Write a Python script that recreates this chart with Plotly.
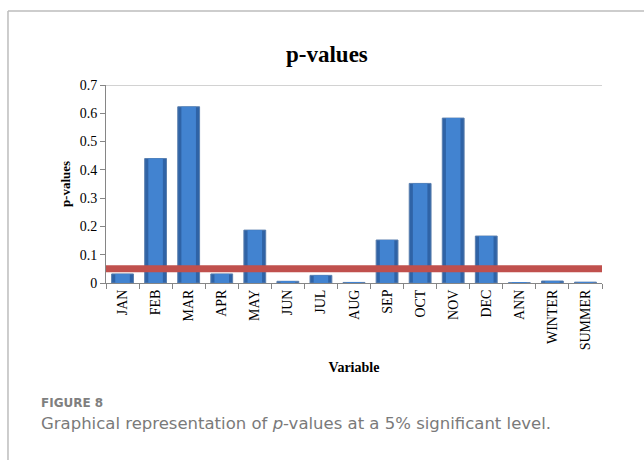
import plotly.graph_objects as go

# Monthly, annual and seasonal test results
variables = ["JAN", "FEB", "MAR", "APR", "MAY", "JUN", "JUL", "AUG",
             "SEP", "OCT", "NOV", "DEC", "ANN", "WINTER", "SUMMER"]
p_values = [0.032, 0.44, 0.623, 0.032, 0.187, 0.006, 0.027, 0.002,
            0.152, 0.352, 0.583, 0.166, 0.001, 0.007, 0.003]
significance_level = 0.05
y_ticks = [0, 0.1, 0.2, 0.3, 0.4, 0.5, 0.6, 0.7]

serif = "Liberation Serif, Times New Roman, serif"
sans = "DejaVu Sans, Open Sans, sans-serif"

fig = go.Figure()
# darker outer body of each bar
fig.add_trace(go.Bar(
    x=variables, y=p_values, width=0.66,
    marker=dict(color="#2F63A6", line=dict(color="#5A7FAE", width=1)),
    showlegend=False, hoverinfo="skip",
))
# lighter centre band for a shaded, rounded look
fig.add_trace(go.Bar(
    x=variables, y=p_values, width=0.44,
    marker=dict(color="#4283D0", line=dict(width=0)),
    showlegend=False,
))

# 5% significance threshold across the whole plot
fig.add_shape(type="line", xref="paper", yref="y",
              x0=0, x1=1, y0=significance_level, y1=significance_level,
              line=dict(color="#C0504D", width=7), layer="above")
# top border of the plot area at the axis maximum
fig.add_shape(type="line", xref="paper", yref="y",
              x0=0, x1=1, y0=y_ticks[-1], y1=y_ticks[-1],
              line=dict(color="#A6A6A6", width=1), layer="below")
# outer panel frame (left and top edges)
fig.add_shape(type="line", xref="paper", yref="paper",
              x0=-0.1976, x1=-0.1976, y0=1.3737, y1=-0.95,
              line=dict(color="#BDBDBD", width=1.5))
fig.add_shape(type="line", xref="paper", yref="paper",
              x0=-0.1976, x1=1.1, y0=1.3737, y1=1.3737,
              line=dict(color="#BDBDBD", width=1.5))

fig.add_annotation(text="<b>p-values</b>", xref="paper", yref="paper",
                   x=0.445, y=1.155, xanchor="center", yanchor="middle",
                   showarrow=False, font=dict(family=serif, size=23, color="#000"))
fig.add_annotation(text="<b>FIGURE 8</b>", xref="paper", yref="paper",
                   x=-0.135, y=-0.605, xanchor="left", yanchor="middle",
                   showarrow=False, font=dict(family=sans, size=12, color="#7f7f7f"))
fig.add_annotation(text="Graphical representation of <i>p</i>-values at a 5% significant level.",
                   xref="paper", yref="paper",
                   x=-0.135, y=-0.71, xanchor="left", yanchor="middle",
                   showarrow=False, font=dict(family=sans, size=16.5, color="#7a7a7a"))

fig.update_layout(
    width=644, height=460,
    margin=dict(l=106, r=42, t=85, b=177),
    paper_bgcolor="white", plot_bgcolor="white",
    barmode="overlay",
    font=dict(family=serif, size=13, color="#000"),
    xaxis=dict(
        title=dict(text="<b>Variable</b>", font=dict(family=serif, size=14), standoff=12),
        tickangle=-90, tickfont=dict(family=serif, size=14),
        showline=True, linecolor="#868686", linewidth=1,
        ticks="outside", ticklen=5, tickcolor="#868686", tickson="boundaries",
        showgrid=False,
    ),
    yaxis=dict(
        title=dict(text="<b>p-values</b>", font=dict(family=serif, size=13), standoff=6),
        range=[0, y_ticks[-1]], tickvals=y_ticks,
        ticktext=[f"{v:g}" for v in y_ticks],
        tickfont=dict(family=serif, size=14),
        showline=True, linecolor="#868686", linewidth=1,
        ticks="outside", ticklen=5, tickcolor="#868686",
        showgrid=False, zeroline=False,
    ),
)

fig.write_html("out.html")
